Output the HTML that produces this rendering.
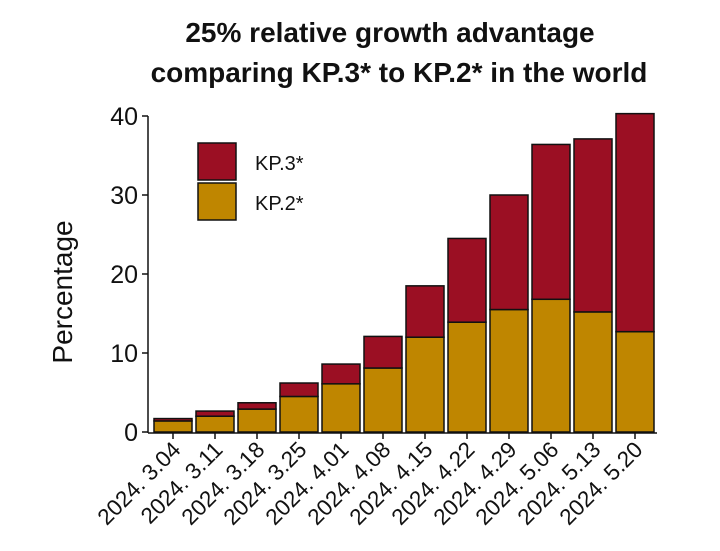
<!DOCTYPE html>
<html><head><meta charset="utf-8"><style>
body{margin:0;background:#fff;}
svg{display:block;font-family:"Liberation Sans",Arial,sans-serif;}
</style></head><body>
<svg id="chart" width="720" height="551">
<text x="390" y="42" text-anchor="middle" font-size="28" font-weight="bold" fill="#111">25% relative growth advantage</text>
<text x="399" y="82" text-anchor="middle" font-size="28" font-weight="bold" fill="#111">comparing KP.3* to KP.2* in the world</text>
<text transform="translate(72,292) rotate(-90)" text-anchor="middle" font-size="28" fill="#111">Percentage</text>
<g id="bars"></g>
<g id="axes"></g>
<g>
<rect x="198" y="143" width="38" height="37" fill="#9b0f23" stroke="#111" stroke-width="1.5"/>
<rect x="198" y="183" width="38" height="37" fill="#bf8600" stroke="#111" stroke-width="1.5"/>
<text x="255" y="170" font-size="20" fill="#111">KP.3*</text>
<text x="255" y="210" font-size="20" fill="#111">KP.2*</text>
</g>
</svg>
<script>
const categories=["2024. 3.04","2024. 3.11","2024. 3.18","2024. 3.25","2024. 4.01","2024. 4.08","2024. 4.15","2024. 4.22","2024. 4.29","2024. 5.06","2024. 5.13","2024. 5.20"];
const kp2Values=[1.4,2.0,2.9,4.5,6.1,8.1,12.0,13.9,15.5,16.8,15.2,12.7];
const totalValues=[1.7,2.65,3.7,6.2,8.6,12.1,18.5,24.5,30.0,36.4,37.1,40.3];
const yTicks=[0,10,20,30,40];
const NS="http://www.w3.org/2000/svg";
const y=v=>432-v*7.9;
const xc=i=>173+i*42;
const bw=38;
function mk(tag,attrs,parent){const e=document.createElementNS(NS,tag);for(const k in attrs)e.setAttribute(k,attrs[k]);parent.appendChild(e);return e;}
const bars=document.getElementById('bars'),axes=document.getElementById('axes');
categories.forEach((c,i)=>{
  const r1=mk('rect',{x:xc(i)-bw/2,y:y(kp2Values[i]),width:bw,height:y(0)-y(kp2Values[i]),fill:'#bf8600',stroke:'#111','stroke-width':1.5},bars);
  
  
  const r2=mk('rect',{x:xc(i)-bw/2,y:y(totalValues[i]),width:bw,height:y(kp2Values[i])-y(totalValues[i]),fill:'#9b0f23',stroke:'#111','stroke-width':1.5},bars);
  
  
  const t=mk('line',{x1:xc(i),x2:xc(i),y1:433,y2:439,stroke:'#111','stroke-width':1.5},axes);
  
  
  const l=mk('text',{transform:`translate(${xc(i)+9},451) rotate(-45)`,'text-anchor':'end','font-size':22.5,fill:'#111'},axes);
  l.textContent=c;
  
  
});
const ya=mk('line',{x1:148,x2:148,y1:y(40),y2:433,stroke:'#111','stroke-width':1.5},axes);


const xa=mk('line',{x1:148,x2:657,y1:433,y2:433,stroke:'#111','stroke-width':1.5},axes);


yTicks.forEach(v=>{
  const t=mk('line',{x1:142,x2:148,y1:y(v),y2:y(v),stroke:'#111','stroke-width':1.5},axes);
  
  
  const l=mk('text',{x:138,y:y(v)+9,'text-anchor':'end','font-size':25,fill:'#111'},axes);
  l.textContent=v;
  
  
});
</script>
</body></html>
